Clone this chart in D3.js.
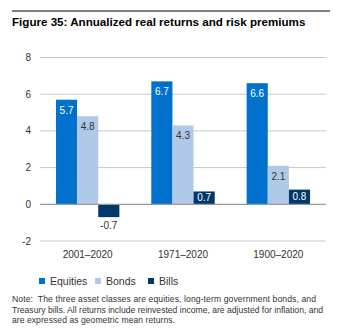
<!DOCTYPE html>
<html>
<head>
<meta charset="utf-8">
<script src="https://cdn.jsdelivr.net/npm/d3@7"></script>
<style>
  body { margin: 0; background: #fff; }
  svg { font-family: "Liberation Sans", Arial, sans-serif; }
</style>
</head>
<body>
<div id="chart"></div>
<script>
// chart data
var periods = ["2001\u20132020", "1971\u20132020", "1900\u20132020"];
var seriesNames = ["Equities", "Bonds", "Bills"];
var equities = [5.7, 6.7, 6.6];
var bonds = [4.8, 4.3, 2.1];
var bills = [-0.7, 0.7, 0.8];
var yTicks = [-2, 0, 2, 4, 6, 8];
var noteLines = [
  "Note:  The three asset classes are equities, long-term government bonds, and",
  "Treasury bills. All returns include reinvested income, are adjusted for inflation, and",
  "are expressed as geometric mean returns."
];

var colors = { Equities: "#0072ce", Bonds: "#b0c9e8", Bills: "#00386b" };
var labelColors = { Equities: "#ffffff", Bonds: "#333333", Bills: "#ffffff" };

var width = 340, height = 336;
var svg = d3.select("#chart").append("svg")
  .attr("width", width)
  .attr("height", height);

// top rule + title
svg.append("line")
  .attr("x1", 12).attr("x2", 330)
  .attr("y1", 11).attr("y2", 11)
  .attr("stroke", "#000").attr("stroke-width", 1);

svg.append("text")
  .attr("x", 12).attr("y", 26)
  .attr("font-size", 11.6).attr("font-weight", "bold")
  .attr("fill", "#000")
  .text("Figure 35: Annualized real returns and risk premiums");

var plot = { left: 40, right: 326 };

var y = d3.scaleLinear().domain([-2, 8]).range([241, 57.5]);

var x0 = d3.scaleBand().domain(periods)
  .range([plot.left, plot.right])
  .paddingInner(0.335).paddingOuter(0.1675);

var x1 = d3.scaleBand().domain(seriesNames)
  .range([0, x0.bandwidth()]);

// gridlines
svg.append("g").selectAll("line")
  .data(yTicks.filter(function (d) { return d !== 0; }))
  .join("line")
  .attr("x1", plot.left).attr("x2", plot.right)
  .attr("y1", function (d) { return y(d); })
  .attr("y2", function (d) { return y(d); })
  .attr("stroke", "#c8c8c8").attr("stroke-width", 1);

// y labels
svg.append("g").selectAll("text")
  .data(yTicks)
  .join("text")
  .attr("x", 31)
  .attr("y", function (d) { return y(d); })
  .attr("dy", "0.35em")
  .attr("text-anchor", "end")
  .attr("font-size", 10)
  .attr("fill", "#333")
  .text(function (d) { return d; });

var rows = [];
periods.forEach(function (p, i) {
  rows.push({ period: p, series: "Equities", value: equities[i] });
  rows.push({ period: p, series: "Bonds", value: bonds[i] });
  rows.push({ period: p, series: "Bills", value: bills[i] });
});

svg.append("g").selectAll("rect")
  .data(rows)
  .join("rect")
  .attr("x", function (d) { return x0(d.period) + x1(d.series); })
  .attr("width", x1.bandwidth())
  .attr("y", function (d) { return y(Math.max(0, d.value)); })
  .attr("height", function (d) { return Math.abs(y(d.value) - y(0)); })
  .attr("fill", function (d) { return colors[d.series]; });

// zero line on top
svg.append("line")
  .attr("x1", plot.left).attr("x2", plot.right)
  .attr("y1", y(0)).attr("y2", y(0))
  .attr("stroke", "#999").attr("stroke-width", 1.2);

// value labels
svg.append("g").selectAll("text")
  .data(rows)
  .join("text")
  .attr("x", function (d) { return x0(d.period) + x1(d.series) + x1.bandwidth() / 2; })
  .attr("y", function (d) {
    if (d.value < 0) return y(d.value) + 12;
    if (d.value < 1) return y(d.value) + 10;
    return y(d.value) + 14;
  })
  .attr("text-anchor", "middle")
  .attr("font-size", 10)
  .attr("fill", function (d) { return d.value < 0 ? "#333" : labelColors[d.series]; })
  .text(function (d) { return d.value.toFixed(1); });

// category labels
svg.append("g").selectAll("text")
  .data(periods)
  .join("text")
  .attr("x", function (d) { return x0(d) + x0.bandwidth() / 2; })
  .attr("y", 258)
  .attr("text-anchor", "middle")
  .attr("font-size", 10)
  .attr("fill", "#333")
  .text(function (d) { return d; });

// legend
var legendX = [39, 95, 148];
var legend = svg.append("g").selectAll("g")
  .data(seriesNames)
  .join("g")
  .attr("transform", function (d, i) { return "translate(" + legendX[i] + ",281)"; });
legend.append("rect")
  .attr("x", 0).attr("y", -3)
  .attr("width", 6).attr("height", 6)
  .attr("fill", function (d) { return colors[d]; });
legend.append("text")
  .attr("x", 11).attr("y", 0)
  .attr("dy", "0.35em")
  .attr("font-size", 10.5)
  .attr("fill", "#333")
  .text(function (d) { return d; });

// note (stretched to the reference line widths)
var noteWidths = [304, 311, 163];
svg.append("g").selectAll("text")
  .data(noteLines)
  .join("text")
  .attr("x", 12)
  .attr("y", function (d, i) { return 302 + i * 10.5; })
  .attr("font-size", 8.6)
  .attr("fill", "#333")
  .style("white-space", "pre")
  .attr("textLength", function (d, i) { return noteWidths[i]; })
  .attr("lengthAdjust", "spacing")
  .text(function (d) { return d; });
</script>
</body>
</html>
